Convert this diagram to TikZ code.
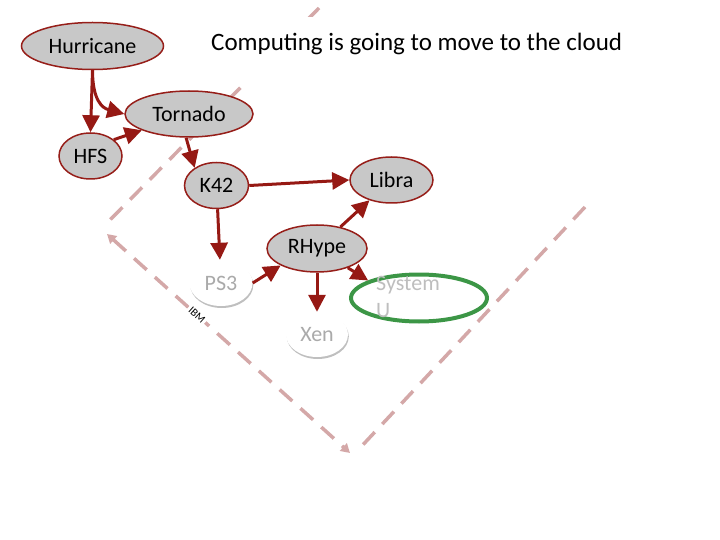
\documentclass[tikz,border=0pt]{standalone}
\usepackage{fontspec}
\setmainfont{Carlito}
\usetikzlibrary{shapes.geometric,arrows.meta,shadows}
\definecolor{nodered}{RGB}{150,30,25}
\definecolor{arrred}{RGB}{150,25,20}
\definecolor{nodegray}{RGB}{200,200,200}
\definecolor{dashpink}{RGB}{212,168,168}
\definecolor{ghost}{RGB}{170,170,170}
\definecolor{ghostlight}{RGB}{190,190,190}
\definecolor{sysgreen}{RGB}{60,150,70}
\begin{document}
\begin{tikzpicture}[x=1pt,y=-1pt,
  nodefont/.style={font=\fontsize{22}{27.5}\selectfont},
  gnode/.style={ellipse, draw=nodered, line width=1.5pt, fill=nodegray, inner sep=0pt, nodefont},
  wnode/.style={ellipse, fill=white, inner sep=0pt, text=ghost, nodefont,
    drop shadow={shadow xshift=0.8pt, shadow yshift=-2pt, opacity=0.5, fill=black!50}},
  arr/.style={draw=arrred, line width=3pt, -{Triangle[length=17pt,width=17pt]}},
  dline/.style={draw=dashpink, line width=3.5pt, dash pattern=on 17pt off 11pt},
]
\useasboundingbox (0,0) rectangle (720,540);

% dashed guide lines
\coordinate (tA) at (319,8);
\coordinate (tB) at (104,226);
\draw[dline] (tA) -- (tB);
\coordinate (iA) at (107,234);
\coordinate (iB) at (350,453);
\draw[dline, {Triangle[length=9pt,width=10pt]}-{Triangle[length=9pt,width=10pt]}] (iA) --
  node[pos=0.37, rotate=-42, fill=white, inner sep=2pt, text=black, font=\fontsize{11}{13}\selectfont] (ibm) {IBM} (iB);
\coordinate (rA) at (585,207);
\coordinate (rB) at (359,449);
\draw[dline] (rA) -- (rB);

% title
\fill[white] (205,17) rectangle (628,86);
\node[font=\fontsize{25}{30}\selectfont, anchor=base west, inner sep=0pt] (title) at (211,51) {Computing is going to move to the cloud};

% nodes
\node[gnode, minimum width=142pt, minimum height=47pt] (hurricane) at (92.5,46) {Hurricane};
\node[gnode, minimum width=128pt, minimum height=46pt] (tornado) at (189,114) {Tornado};
\node[gnode, minimum width=63pt, minimum height=46pt] (hfs) at (90.5,156) {HFS};
\node[gnode, minimum width=64pt, minimum height=46pt] (k42) at (216.5,185.5) {K42};
\node[gnode, minimum width=83pt, minimum height=46pt] (libra) at (391.5,180) {Libra};
\node[gnode, minimum width=100pt, minimum height=47pt] (rhype) at (317,248.5) {RHype};
\node[wnode, minimum width=63pt, minimum height=46pt] (ps3) at (221,283) {PS3};
\node[wnode, minimum width=62pt, minimum height=45pt] (xen) at (317,334.5) {Xen};
\node[ellipse, draw=sysgreen, line width=4pt, minimum width=136pt, minimum height=47pt, inner sep=0pt] (sysu) at (419,298) {};
\node[text=ghostlight, nodefont, align=left, anchor=north west, inner sep=0pt] (sysutext) at (376,276) {System\\U};

% arrows
\draw[arr] (hurricane.south) -- (hfs.north);
\draw[arr] (hurricane.south) .. controls +(0,30) and +(-22,-6) .. (tornado.west);
\draw[arr] (hfs.35) -- (tornado.199);
\draw[arr] (tornado.-97) -- (k42.141);
\draw[arr] (k42.east) -- (libra.west);
\draw[arr] (k42) -- (ps3);
\draw[arr] (ps3.east) -- (rhype.-155);
\draw[arr] (rhype) -- (libra);
\draw[arr] (rhype.south) -- (xen.north);
\draw[arr] (rhype.-32) -- (sysu.161);
\end{tikzpicture}
\end{document}
